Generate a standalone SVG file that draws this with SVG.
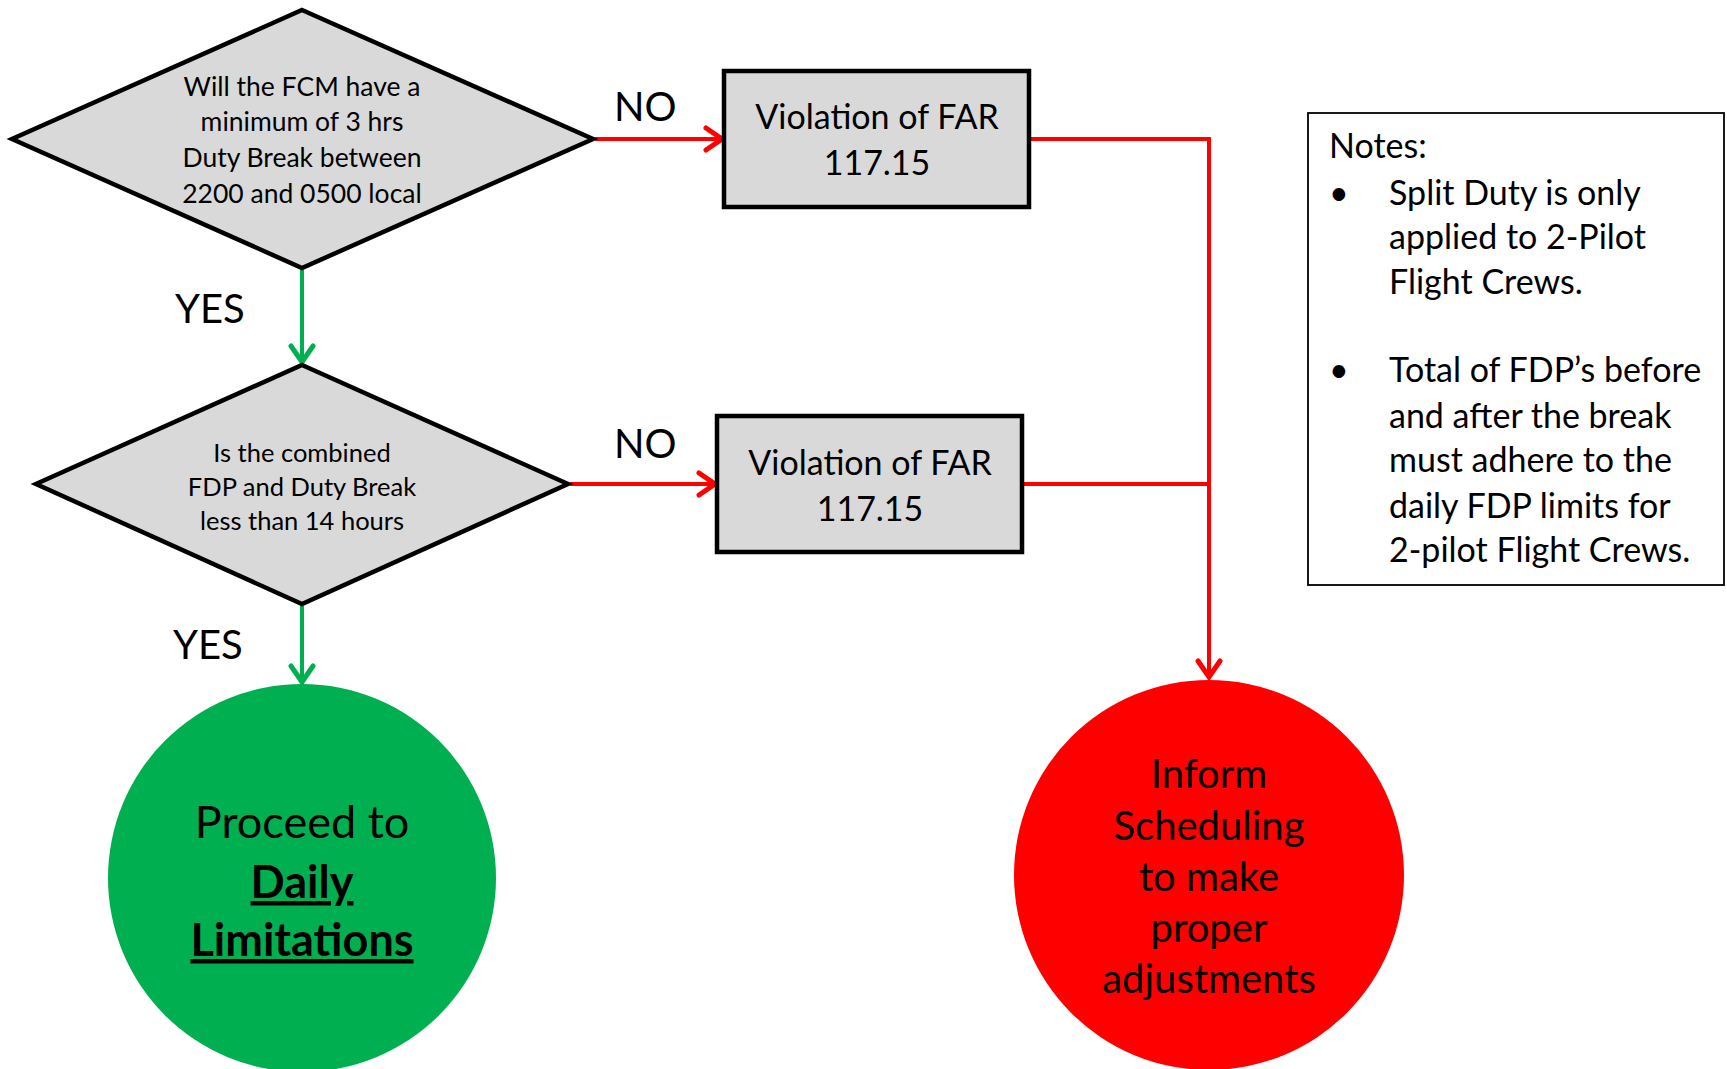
<svg xmlns="http://www.w3.org/2000/svg" width="1727" height="1069" viewBox="0 0 1727 1069">
<style>
text{font-family:Lato,"Liberation Sans",sans-serif;fill:#000}
.dtext{font-size:26.5px;text-anchor:middle}
.dtext2{font-size:25.5px;text-anchor:middle}
.lbl{font-size:40px}
.btext{font-size:34px;text-anchor:middle}
.ctext{font-size:40px;text-anchor:middle}
.gtext{font-size:45px;text-anchor:middle}
.ntext{font-size:34px}
.shape{fill:#D9D9D9;stroke:#000;stroke-width:4.5;stroke-linejoin:miter}
.red{stroke:#FF0000;stroke-width:4;fill:none}
.green{stroke:#00B050;stroke-width:4;fill:none}
</style>
<defs>
<marker id="ar" viewBox="0 0 22 28" refX="19" refY="14" markerWidth="22" markerHeight="28" markerUnits="userSpaceOnUse" orient="auto">
<path d="M3,3 L19,14 L3,25" fill="none" stroke="#FF0000" stroke-width="5" stroke-linecap="round"/>
</marker>
<marker id="ag" viewBox="0 0 22 28" refX="19" refY="14" markerWidth="22" markerHeight="28" markerUnits="userSpaceOnUse" orient="auto">
<path d="M3,3 L19,14 L3,25" fill="none" stroke="#00B050" stroke-width="5" stroke-linecap="round"/>
</marker>
</defs>
<rect width="1727" height="1069" fill="#fff"/>
<g id="connectors">
<line class="green" x1="302" y1="270" x2="302" y2="362" marker-end="url(#ag)"/>
<line class="green" x1="302" y1="606" x2="302" y2="682" marker-end="url(#ag)"/>
<line class="red" x1="595" y1="139" x2="722" y2="139" marker-end="url(#ar)"/>
<line class="red" x1="570" y1="484" x2="715" y2="484" marker-end="url(#ar)"/>
<polyline class="red" points="1031,139 1209,139 1209,677" marker-end="url(#ar)"/>
<line class="red" x1="1024" y1="484" x2="1209" y2="484"/>
<text class="lbl" x="614" y="121">NO</text>
<text class="lbl" x="614" y="458">NO</text>
<text class="lbl" x="175" y="323">YES</text>
<text class="lbl" x="173" y="659">YES</text>
</g>
<g id="decision1">
<polygon class="shape" points="302,10 593,139 302,268 12,139"/>
<text class="dtext" x="302" y="96">Will the FCM have a</text>
<text class="dtext" x="302" y="131">minimum of 3 hrs</text>
<text class="dtext" x="302" y="167">Duty Break between</text>
<text class="dtext" x="302" y="203">2200 and 0500 local</text>
</g>
<g id="decision2">
<polygon class="shape" points="302,365 568,484 302,604 36,484"/>
<text class="dtext2" x="302" y="462">Is the combined</text>
<text class="dtext2" x="302" y="496">FDP and Duty Break</text>
<text class="dtext2" x="302" y="530">less than 14 hours</text>
</g>
<g id="violation1">
<rect class="shape" x="724" y="71" width="305" height="136"/>
<text class="btext" x="877" y="129">Violation of FAR</text>
<text class="btext" x="877" y="175">117.15</text>
</g>
<g id="violation2">
<rect class="shape" x="717" y="416" width="305" height="136"/>
<text class="btext" x="870" y="475">Violation of FAR</text>
<text class="btext" x="870" y="521">117.15</text>
</g>
<g id="proceed">
<circle cx="302" cy="878" r="194" fill="#00B050"/>
<text class="gtext" x="302" y="838">Proceed to</text>
<text class="gtext" x="302" y="898" font-weight="bold" text-decoration="underline">Daily</text>
<text class="gtext" x="302" y="956" font-weight="bold" text-decoration="underline">Limitations</text>
</g>
<g id="inform">
<circle cx="1209" cy="875" r="195" fill="#FF0000"/>
<text class="ctext" x="1209" y="788">Inform</text>
<text class="ctext" x="1209" y="840">Scheduling</text>
<text class="ctext" x="1209" y="891">to make</text>
<text class="ctext" x="1209" y="942">proper</text>
<text class="ctext" x="1209" y="993">adjustments</text>
</g>
<g id="notes">
<rect x="1308" y="113" width="416" height="472" fill="#fff" stroke="#000" stroke-width="1.8"/>
<text class="ntext" x="1329" y="158">Notes:</text>
<text class="ntext" x="1329" y="205">•</text>
<text class="ntext" x="1389" y="205">Split Duty is only</text>
<text class="ntext" x="1389" y="249">applied to 2-Pilot</text>
<text class="ntext" x="1389" y="294">Flight Crews.</text>
<text class="ntext" x="1329" y="382">•</text>
<text class="ntext" x="1389" y="382">Total of FDP’s before</text>
<text class="ntext" x="1389" y="428">and after the break</text>
<text class="ntext" x="1389" y="472">must adhere to the</text>
<text class="ntext" x="1389" y="518">daily FDP limits for</text>
<text class="ntext" x="1389" y="562">2-pilot Flight Crews.</text>
</g>
</svg>
